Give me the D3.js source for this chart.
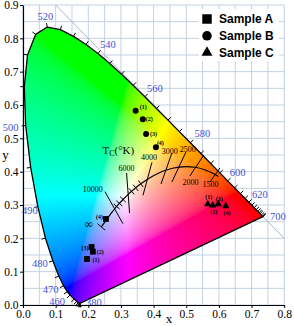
<!DOCTYPE html>
<html>
<head>
<meta charset="utf-8">
<script src="https://cdn.jsdelivr.net/npm/d3@7"></script>
<style>
body { margin: 0; background: #fff; }
svg { display: block; }
</style>
</head>
<body>
<div id="chart"></div>
<script>

// CIE 1931 spectral locus
var wavelengths = [380, 390, 400, 410, 420, 430, 440, 450, 460, 465, 470, 475, 480, 485, 490, 495, 500, 505, 510, 515,
  520, 525, 530, 535, 540, 545, 550, 555, 560, 565, 570, 575, 580, 585, 590, 595, 600, 605, 610, 615,
  620, 625, 630, 635, 640, 645, 650, 660, 670, 680, 700];
var locusX = [0.1741, 0.1738, 0.1733, 0.1726, 0.1714, 0.1689, 0.1644, 0.1566, 0.1440, 0.1355, 0.1241, 0.1096, 0.0913, 0.0687, 0.0454, 0.0235, 0.0082, 0.0039, 0.0139, 0.0389,
  0.0743, 0.1142, 0.1547, 0.1929, 0.2296, 0.2658, 0.3016, 0.3373, 0.3731, 0.4087, 0.4441, 0.4788, 0.5125, 0.5448, 0.5752, 0.6029, 0.6270, 0.6482, 0.6658, 0.6801,
  0.6915, 0.7006, 0.7079, 0.7140, 0.7190, 0.7230, 0.7260, 0.7300, 0.7334, 0.7347, 0.7347];
var locusY = [0.0050, 0.0049, 0.0048, 0.0048, 0.0051, 0.0069, 0.0109, 0.0177, 0.0297, 0.0399, 0.0578, 0.0868, 0.1327, 0.2007, 0.2950, 0.4127, 0.5384, 0.6548, 0.7502, 0.8120,
  0.8338, 0.8262, 0.8059, 0.7816, 0.7543, 0.7243, 0.6923, 0.6589, 0.6245, 0.5896, 0.5547, 0.5202, 0.4866, 0.4544, 0.4242, 0.3965, 0.3725, 0.3514, 0.3340, 0.3197,
  0.3083, 0.2993, 0.2920, 0.2859, 0.2809, 0.2770, 0.2740, 0.2700, 0.2666, 0.2653, 0.2653];
var labelWavelengths = [380, 460, 470, 480, 490, 500, 520, 540, 560, 580, 600, 620, 700];

// Planckian locus
var planckTemps = ["inf", 30000, 20000, 15000, 12000, 10000, 9000, 8000, 7000, 6000, 5500, 5000, 4500, 4000, 3500, 3000, 2500, 2000, 1750, 1500, 1400];
var planckX = [0.2399, 0.2510, 0.2565, 0.2637, 0.2720, 0.2807, 0.2869, 0.2952, 0.3064, 0.3221, 0.3325, 0.3451, 0.3608, 0.3805, 0.4053, 0.4369, 0.4770, 0.5267, 0.5564, 0.5857, 0.5985];
var planckY = [0.2342, 0.2496, 0.2570, 0.2668, 0.2776, 0.2884, 0.2956, 0.3048, 0.3166, 0.3318, 0.3411, 0.3516, 0.3636, 0.3768, 0.3907, 0.4041, 0.4137, 0.4133, 0.4059, 0.3931, 0.3858];
var hashTemps = [9000, 8000, 7000, 5500, 5000, 4500];

// isotherms (T label, end points)
var isoTemps = ["inf", 10000, 6000, 4000, 3000, 2500, 2000, 1500];
var isoLabels = ["\u221e", "10000", "6000", "4000", "3000", "2500", "2000", "1500"];
var isoX1 = [0.228, 0.251, 0.3172, 0.395, 0.456, 0.499, 0.554, 0.603];
var isoY1 = [0.244, 0.340, 0.396, 0.428, 0.456, 0.459, 0.450, 0.411];
var isoX2 = [0.2515, 0.306, 0.3264, 0.3675, 0.4227, 0.456, 0.511, 0.573];
var isoY2 = [0.2247, 0.244, 0.276, 0.329, 0.363, 0.369, 0.387, 0.369];

// samples
var sampleLabels = ["(1)", "(2)", "(3)", "(4)"];
var sampleAX = [0.196, 0.214, 0.210, 0.254];
var sampleAY = [0.138, 0.160, 0.174, 0.258];
var sampleBX = [0.345, 0.367, 0.377, 0.407];
var sampleBY = [0.583, 0.557, 0.513, 0.473];
var sampleCX = [0.566, 0.581, 0.598, 0.621];
var sampleCY = [0.303, 0.299, 0.303, 0.297];
var legendNames = ["Sample A", "Sample B", "Sample C"];

var xTicks = [0, 0.1, 0.2, 0.3, 0.4, 0.5, 0.6, 0.7, 0.8];
var yTicks = [0, 0.1, 0.2, 0.3, 0.4, 0.5, 0.6, 0.7, 0.8, 0.9];

var svgWidth = 294;
var svgHeight = 326;

var margin = {
  top: 5,
  right: 9.8,
  bottom: 21,
  left: 23
};

var width = svgWidth - margin.left - margin.right;
var height = svgHeight - margin.top - margin.bottom;

var serif = "'Liberation Serif', 'DejaVu Serif', serif";
var sans = "'Liberation Sans', Arial, sans-serif";
var blue = "#3f51d6";

var svg = d3.select("#chart")
  .append("svg")
  .attr("width", svgWidth)
  .attr("height", svgHeight);

var chartGroup = svg.append("g")
  .attr("transform", `translate(${margin.left}, ${margin.top})`);

// Step 1: scales
var xScale = d3.scaleLinear().domain([0, 0.8]).range([0, width]);
var yScale = d3.scaleLinear().domain([0, 0.9]).range([height, 0]);

// Step 2: grid + the x+y=1 line
chartGroup.append("g").selectAll("line")
  .data(xScale.ticks(16))
  .enter().append("line")
  .attr("x1", d => xScale(d)).attr("x2", d => xScale(d))
  .attr("y1", 0).attr("y2", height)
  .attr("stroke", "#c3d1e3").attr("stroke-width", 1);

chartGroup.append("g").selectAll("line")
  .data(yScale.ticks(18))
  .enter().append("line")
  .attr("y1", d => yScale(d)).attr("y2", d => yScale(d))
  .attr("x1", 0).attr("x2", width)
  .attr("stroke", "#c3d1e3").attr("stroke-width", 1);

chartGroup.append("line")
  .attr("x1", xScale(0.1)).attr("y1", yScale(0.9))
  .attr("x2", xScale(0.8)).attr("y2", yScale(0.2))
  .attr("stroke", "#a9b6c6").attr("stroke-width", 1);

// Step 3: colour fill of the horseshoe
var locus = wavelengths.map((w, i) => [xScale(locusX[i]), yScale(locusY[i])]);

svg.append("defs").append("clipPath")
  .attr("id", "locusClip")
  .append("path")
  .attr("d", "M" + locus.join("L") + "Z");

var canvas = document.createElement("canvas");
canvas.width = Math.ceil(width);
canvas.height = Math.ceil(height);
var ctx = canvas.getContext("2d");
var img = ctx.createImageData(canvas.width, canvas.height);

function gammaC(c) {
  return c <= 0.0031308 ? 12.92 * c : 1.055 * Math.pow(c, 1 / 2.4) - 0.055;
}

for (var j = 0; j < canvas.height; j++) {
  for (var i = 0; i < canvas.width; i++) {
    var cx = xScale.invert(i + 0.5), cy = yScale.invert(j + 0.5);
    if (cy < 0.002) cy = 0.002;
    var X = cx / cy, Y = 1, Z = (1 - cx - cy) / cy;
    var r = 3.2406 * X - 1.5372 * Y - 0.4986 * Z;
    var g = -0.9689 * X + 1.8758 * Y + 0.0415 * Z;
    var b = 0.0557 * X - 0.2040 * Y + 1.0570 * Z;
    r = Math.max(r, 0); g = Math.max(g, 0); b = Math.max(b, 0);
    var m = Math.max(r, g, b) || 1;
    var k = (j * canvas.width + i) * 4;
    img.data[k] = 255 * gammaC(r / m);
    img.data[k + 1] = 255 * gammaC(g / m);
    img.data[k + 2] = 255 * gammaC(b / m);
    img.data[k + 3] = 255;
  }
}
ctx.putImageData(img, 0, 0);

chartGroup.append("image")
  .attr("href", canvas.toDataURL())
  .attr("x", 0).attr("y", 0)
  .attr("width", canvas.width).attr("height", canvas.height)
  .attr("clip-path", "url(#locusClip)");

// Step 4: locus outline, wavelength ticks and labels
chartGroup.append("path")
  .attr("d", "M" + locus.join("L") + "Z")
  .attr("fill", "none")
  .attr("stroke", "black")
  .attr("stroke-width", 1.3)
  .attr("stroke-linejoin", "round");

function normalAt(pts, i) {
  var a = i - 1, b = i + 1;
  if (a < 0) a = 0;
  if (b > pts.length - 1) b = pts.length - 1;
  while (a > 0 && pts[a][0] === pts[b][0] && pts[a][1] === pts[b][1]) a--;
  var tx = pts[b][0] - pts[a][0], ty = pts[b][1] - pts[a][1];
  var len = Math.sqrt(tx * tx + ty * ty) || 1;
  return [ty / len, -tx / len];
}

chartGroup.append("g").selectAll("line")
  .data(locus)
  .enter().append("line")
  .attr("x1", d => d[0])
  .attr("y1", d => d[1])
  .attr("x2", (d, i) => d[0] + 4 * normalAt(locus, i)[0])
  .attr("y2", (d, i) => d[1] + 4 * normalAt(locus, i)[1])
  .attr("stroke", "black").attr("stroke-width", 1);

var wlOffset = {380: [14, -1.5], 460: [-13, 6], 470: [-13, 3.5], 480: [-13, 3], 490: [-8, 4], 500: [-15, 1.5],
  520: [-2, -10.5], 540: [10, -9], 560: [10, -9], 580: [12, -9], 600: [10, -9], 620: [11, -8], 700: [15, 0]};

chartGroup.append("g").selectAll("text")
  .data(labelWavelengths)
  .enter().append("text")
  .attr("x", d => xScale(locusX[wavelengths.indexOf(d)]) + wlOffset[d][0])
  .attr("y", d => yScale(locusY[wavelengths.indexOf(d)]) + wlOffset[d][1])
  .attr("dy", "0.35em")
  .attr("text-anchor", "middle")
  .attr("font-family", serif)
  .attr("font-size", "10.5px")
  .attr("fill", blue)
  .text(d => d);

// Step 5: Planckian locus with isotherms
var planckPts = planckTemps.map((t, i) => [xScale(planckX[i]), yScale(planckY[i])]);

chartGroup.append("path")
  .attr("d", d3.line().curve(d3.curveCatmullRom)(planckPts))
  .attr("fill", "none")
  .attr("stroke", "black")
  .attr("stroke-width", 1.2);

chartGroup.append("g").selectAll("line")
  .data(hashTemps)
  .enter().append("line")
  .each(function(t) {
    var i = planckTemps.indexOf(t);
    var n = normalAt(planckPts, i);
    d3.select(this)
      .attr("x1", planckPts[i][0] - 4 * n[0]).attr("y1", planckPts[i][1] - 4 * n[1])
      .attr("x2", planckPts[i][0] + 4 * n[0]).attr("y2", planckPts[i][1] + 4 * n[1]);
  })
  .attr("stroke", "black").attr("stroke-width", 1);

chartGroup.append("g").selectAll("line")
  .data(isoTemps)
  .enter().append("line")
  .attr("x1", (d, i) => xScale(isoX1[i]))
  .attr("y1", (d, i) => yScale(isoY1[i]))
  .attr("x2", (d, i) => xScale(isoX2[i]))
  .attr("y2", (d, i) => yScale(isoY2[i]))
  .attr("stroke", "black").attr("stroke-width", 1);

var isoOffset = {"inf": [-12.5, -3], 10000: [-22, -20], 6000: [-1.7, -26.4], 4000: [1.8, -22], 3000: [4, -19.5],
  2500: [9, -17.5], 2000: [-4.5, 15.3], 1500: [-3.7, 10]};

chartGroup.append("g").selectAll("text")
  .data(isoTemps)
  .enter().append("text")
  .attr("x", d => planckPts[planckTemps.indexOf(d)][0] + isoOffset[d][0])
  .attr("y", d => planckPts[planckTemps.indexOf(d)][1] + isoOffset[d][1])
  .attr("dy", "0.35em")
  .attr("text-anchor", "middle")
  .attr("font-family", serif)
  .attr("font-size", (d, i) => i === 0 ? "12px" : "8px")
  .text((d, i) => isoLabels[i]);

var tcLabel = chartGroup.append("text")
  .attr("x", xScale(0.2432))
  .attr("y", yScale(0.453))
  .attr("font-family", serif)
  .attr("font-size", "11px");
tcLabel.append("tspan").text("T");
tcLabel.append("tspan").attr("font-size", "8px").attr("dy", 2).text("C");
tcLabel.append("tspan").attr("dy", -2).text("(\u00b0K)");

// Step 6: sample points
var samples = [
  {x: sampleAX, y: sampleAY, sym: d3.symbolSquare, size: 34,
    off: [[9, 0.5], [7.5, 0.5], [-6.5, 1], [-6.5, -2.5]]},
  {x: sampleBX, y: sampleBY, sym: d3.symbolCircle, size: 28,
    off: [[7.5, -3.5], [6.5, 0], [7.5, 0], [4.5, -4.5]]},
  {x: sampleCX, y: sampleCY, sym: d3.symbolTriangle, size: 24,
    off: [[1, -7], [1, 7], [1, -5], [1.3, 6.5]]}
];

samples.forEach(s => {
  var grp = chartGroup.append("g");
  grp.selectAll("path")
    .data(s.x)
    .enter().append("path")
    .attr("d", d3.symbol().type(s.sym).size(s.size))
    .attr("transform", (d, i) => `translate(${xScale(s.x[i])}, ${yScale(s.y[i])})`)
    .attr("fill", "black");
  grp.selectAll("text")
    .data(sampleLabels)
    .enter().append("text")
    .attr("x", (d, i) => xScale(s.x[i]) + s.off[i][0])
    .attr("y", (d, i) => yScale(s.y[i]) + s.off[i][1])
    .attr("dy", "0.35em")
    .attr("text-anchor", "middle")
    .attr("font-family", serif)
    .attr("font-size", "6px")
    .attr("font-weight", "bold")
    .text(d => d);
});

// Step 7: axes
var xAxis = d3.axisBottom(xScale).tickValues(xTicks).tickFormat(d3.format(".1f"))
  .tickSize(3).tickSizeOuter(0).tickPadding(2);
var yAxis = d3.axisLeft(yScale).tickValues(yTicks).tickFormat(d3.format(".1f"))
  .tickSize(3).tickSizeOuter(0).tickPadding(1.5);

chartGroup.append("g")
  .attr("transform", `translate(0, ${height})`)
  .call(xAxis)
  .attr("font-family", serif)
  .attr("font-size", "11.5px");

chartGroup.append("g")
  .call(yAxis)
  .attr("font-family", serif)
  .attr("font-size", "11.5px");

chartGroup.selectAll(".domain").attr("stroke-width", 1.2);

chartGroup.append("text")
  .attr("x", xScale(0.4475))
  .attr("y", height + 18)
  .attr("text-anchor", "middle")
  .attr("font-family", serif)
  .attr("font-size", "13px")
  .text("x");

chartGroup.append("text")
  .attr("x", -17.5)
  .attr("y", yScale(0.45))
  .attr("dy", "0.3em")
  .attr("text-anchor", "middle")
  .attr("font-family", serif)
  .attr("font-size", "13px")
  .text("y");

// Step 8: legend
var legend = svg.append("g");
legend.append("rect")
  .attr("x", 199).attr("y", 9)
  .attr("width", 80).attr("height", 52)
  .attr("fill", "white");

var legendSyms = [d3.symbolSquare, d3.symbolCircle, d3.symbolTriangle];
var legendSizes = [90, 72, 52];

legend.selectAll("path")
  .data(legendNames)
  .enter().append("path")
  .attr("d", (d, i) => d3.symbol().type(legendSyms[i]).size(legendSizes[i])())
  .attr("transform", (d, i) => `translate(207, ${19 + i * 16.8})`)
  .attr("fill", "black");

legend.selectAll("text")
  .data(legendNames)
  .enter().append("text")
  .attr("x", 219)
  .attr("y", (d, i) => 23 + i * 16.8)
  .attr("font-family", sans)
  .attr("font-weight", "bold")
  .attr("font-size", "12px")
  .text(d => d);

</script>
</body>
</html>
